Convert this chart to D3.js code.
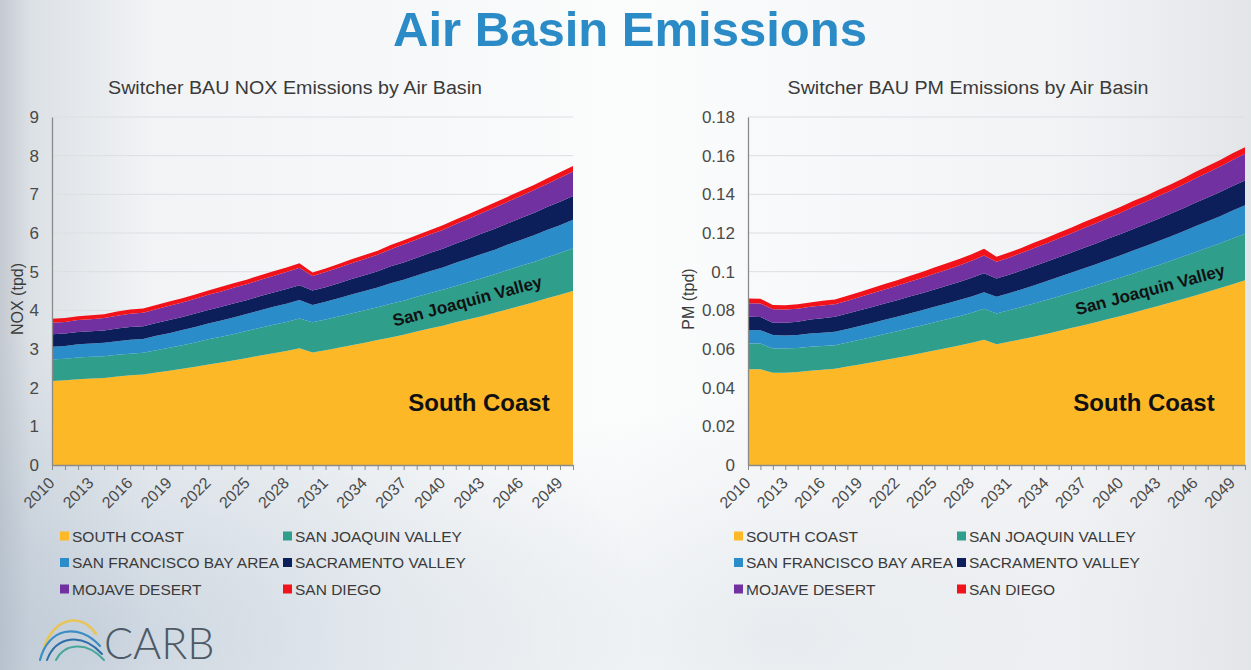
<!DOCTYPE html>
<html>
<head>
<meta charset="utf-8">
<script src="https://cdn.jsdelivr.net/npm/d3@7"></script>
<style>
  html, body { margin: 0; padding: 0; overflow: hidden; background: #f2f4f6; }
  svg { display: block; }
</style>
</head>
<body>
<script>
// ---- categories ----
const years = [2010,2011,2012,2013,2014,2015,2016,2017,2018,2019,
               2020,2021,2022,2023,2024,2025,2026,2027,2028,2029,
               2030,2031,2032,2033,2034,2035,2036,2037,2038,2039,
               2040,2041,2042,2043,2044,2045,2046,2047,2048,2049,2050];
const basins = ["SOUTH COAST","SAN JOAQUIN VALLEY","SAN FRANCISCO BAY AREA",
                "SACRAMENTO VALLEY","MOJAVE DESERT","SAN DIEGO"];
const basinColors = ["#FDB827","#2F9E8B","#2A8DC9","#0C1F5B","#7131A1","#F2121A"];

// ---- NOX (tpd) by basin ----
const noxSouthCoast = [2.17,2.19,2.22,2.24,2.25,2.29,2.32,2.34,2.39,2.44,
                       2.49,2.54,2.60,2.65,2.71,2.77,2.83,2.89,2.95,3.02,
                       2.91,2.97,3.03,3.10,3.16,3.23,3.30,3.37,3.45,3.53,
                       3.60,3.69,3.77,3.85,3.94,4.03,4.12,4.21,4.31,4.40,4.50];
const noxSanJoaquin = [0.56,0.56,0.56,0.56,0.56,0.56,0.56,0.56,0.58,0.59,
                       0.61,0.63,0.65,0.67,0.68,0.70,0.72,0.74,0.75,0.77,
                       0.78,0.79,0.81,0.82,0.84,0.85,0.87,0.88,0.90,0.91,
                       0.93,0.94,0.96,0.98,0.99,1.01,1.03,1.04,1.06,1.08,1.10];
const noxBayArea    = [0.33,0.33,0.34,0.34,0.35,0.35,0.36,0.36,0.37,0.38,
                       0.39,0.40,0.41,0.42,0.43,0.44,0.45,0.46,0.47,0.48,
                       0.45,0.46,0.47,0.49,0.50,0.51,0.53,0.54,0.55,0.57,
                       0.58,0.60,0.61,0.63,0.64,0.66,0.67,0.69,0.71,0.72,0.74];
const noxSacramento = [0.32,0.32,0.32,0.32,0.32,0.33,0.33,0.33,0.33,0.34,
                       0.34,0.35,0.35,0.35,0.36,0.36,0.37,0.37,0.38,0.38,
                       0.37,0.38,0.39,0.40,0.41,0.42,0.44,0.45,0.46,0.47,
                       0.48,0.50,0.51,0.53,0.54,0.55,0.57,0.58,0.59,0.61,0.62];
const noxMojave     = [0.30,0.30,0.31,0.31,0.32,0.33,0.34,0.35,0.36,0.37,
                       0.37,0.38,0.39,0.40,0.41,0.41,0.42,0.43,0.44,0.45,
                       0.38,0.39,0.40,0.41,0.42,0.43,0.44,0.46,0.47,0.48,
                       0.49,0.50,0.52,0.53,0.55,0.56,0.57,0.59,0.60,0.62,0.63];
const noxSanDiego   = [0.10,0.10,0.10,0.10,0.10,0.11,0.11,0.11,0.11,0.11,
                       0.11,0.11,0.11,0.12,0.12,0.12,0.12,0.12,0.12,0.12,
                       0.09,0.09,0.10,0.10,0.10,0.10,0.11,0.11,0.11,0.11,
                       0.12,0.12,0.12,0.12,0.13,0.13,0.13,0.13,0.14,0.14,0.14];

// ---- PM (tpd) by basin ----
const pmSouthCoast = [0.0495,0.0495,0.0477,0.0477,0.0481,0.0488,0.0493,0.0498,0.0509,0.0520,
                      0.0531,0.0543,0.0555,0.0567,0.0579,0.0592,0.0605,0.0618,0.0632,0.0648,
                      0.0624,0.0637,0.0650,0.0664,0.0678,0.0693,0.0708,0.0723,0.0739,0.0755,
                      0.0771,0.0788,0.0805,0.0822,0.0840,0.0858,0.0877,0.0896,0.0915,0.0935,0.0955];
const pmSanJoaquin = [0.0134,0.0133,0.0126,0.0125,0.0124,0.0123,0.0122,0.0122,0.0125,0.0128,
                      0.0131,0.0134,0.0137,0.0140,0.0143,0.0146,0.0149,0.0152,0.0156,0.0160,
                      0.0160,0.0163,0.0167,0.0171,0.0175,0.0179,0.0183,0.0187,0.0191,0.0195,
                      0.0199,0.0203,0.0207,0.0211,0.0215,0.0220,0.0224,0.0228,0.0232,0.0237,0.0241];
const pmBayArea    = [0.0069,0.0069,0.0069,0.0068,0.0068,0.0069,0.0069,0.0069,0.0070,0.0071,
                      0.0073,0.0074,0.0075,0.0077,0.0078,0.0080,0.0081,0.0083,0.0084,0.0086,
                      0.0086,0.0088,0.0091,0.0094,0.0097,0.0100,0.0103,0.0106,0.0109,0.0112,
                      0.0115,0.0118,0.0121,0.0124,0.0127,0.0130,0.0134,0.0137,0.0140,0.0144,0.0147];
const pmSacramento = [0.0069,0.0069,0.0064,0.0066,0.0068,0.0072,0.0075,0.0078,0.0079,0.0081,
                      0.0082,0.0084,0.0085,0.0087,0.0088,0.0090,0.0092,0.0094,0.0096,0.0098,
                      0.0095,0.0096,0.0098,0.0099,0.0101,0.0102,0.0104,0.0106,0.0107,0.0109,
                      0.0110,0.0112,0.0113,0.0115,0.0117,0.0119,0.0121,0.0123,0.0125,0.0127,0.0129];
const pmMojave     = [0.0069,0.0069,0.0069,0.0068,0.0067,0.0066,0.0066,0.0065,0.0067,0.0069,
                      0.0071,0.0073,0.0075,0.0077,0.0079,0.0081,0.0083,0.0085,0.0088,0.0091,
                      0.0086,0.0088,0.0090,0.0093,0.0095,0.0098,0.0100,0.0103,0.0105,0.0108,
                      0.0110,0.0113,0.0115,0.0118,0.0120,0.0123,0.0126,0.0129,0.0132,0.0135,0.0138];
const pmSanDiego   = [0.0025,0.0025,0.0022,0.0022,0.0023,0.0023,0.0024,0.0024,0.0025,0.0026,
                      0.0027,0.0028,0.0029,0.0030,0.0031,0.0032,0.0033,0.0033,0.0034,0.0035,
                      0.0026,0.0027,0.0027,0.0028,0.0028,0.0029,0.0029,0.0030,0.0030,0.0030,
                      0.0031,0.0031,0.0031,0.0032,0.0032,0.0032,0.0033,0.0033,0.0033,0.0034,0.0034];

// ---- tick labels ----
const xTickYears  = [2010,2013,2016,2019,2022,2025,2028,2031,2034,2037,2040,2043,2046,2049];
const noxTicks    = [0,1,2,3,4,5,6,7,8,9];
const noxTickText = ["0","1","2","3","4","5","6","7","8","9"];
const pmTicks     = [0,0.02,0.04,0.06,0.08,0.1,0.12,0.14,0.16,0.18];
const pmTickText  = ["0","0.02","0.04","0.06","0.08","0.1","0.12","0.14","0.16","0.18"];

const FONT = "'Liberation Sans', Arial, sans-serif";
const W = 1251, H = 670;

const svg = d3.select("body").append("svg").attr("width", W).attr("height", H);

// ---- slide background ----
const defs = svg.append("defs");
const gH = defs.append("linearGradient").attr("id", "bgH").attr("x1", 0).attr("x2", 1).attr("y1", 0).attr("y2", 0);
[["0%", "#c4cad1"], ["2.5%", "#dce1e6"], ["12%", "#f1f3f5"], ["50%", "#fbfcfc"], ["85%", "#f2f3f5"], ["100%", "#e3e6e9"]]
  .forEach(([o, c]) => gH.append("stop").attr("offset", o).attr("stop-color", c));
const gBL = defs.append("radialGradient").attr("id", "bgBL").attr("cx", 0.08).attr("cy", 0.95).attr("r", 0.45);
gBL.append("stop").attr("offset", "0%").attr("stop-color", "#9fb2c6").attr("stop-opacity", 0.45);
gBL.append("stop").attr("offset", "100%").attr("stop-color", "#9fb2c6").attr("stop-opacity", 0);
const gBR = defs.append("radialGradient").attr("id", "bgBR").attr("cx", 0.62).attr("cy", 0.95).attr("r", 0.35);
gBR.append("stop").attr("offset", "0%").attr("stop-color", "#c9d3dd").attr("stop-opacity", 0.35);
gBR.append("stop").attr("offset", "100%").attr("stop-color", "#c9d3dd").attr("stop-opacity", 0);

svg.append("rect").attr("width", W).attr("height", H).attr("fill", "url(#bgH)");
svg.append("rect").attr("width", W).attr("height", H).attr("fill", "url(#bgBL)");
svg.append("rect").attr("width", W).attr("height", H).attr("fill", "url(#bgBR)");

// ---- slide title ----
svg.append("text")
  .attr("x", 630).attr("y", 46)
  .attr("text-anchor", "middle")
  .attr("font-family", FONT).attr("font-weight", "bold").attr("font-size", 49)
  .attr("fill", "#2A8BC6")
  .text("Air Basin Emissions");

function buildTable(series) {
  return years.map((yr, i) => {
    const row = { year: yr };
    basins.forEach((b, j) => { row[b] = series[j][i]; });
    return row;
  });
}

function drawChart(cfg) {
  const table = buildTable(cfg.series);
  const stacked = d3.stack().keys(basins)(table);

  const x = d3.scaleLinear().domain([years[0], years[years.length - 1]]).range([cfg.left, cfg.right]);
  const y = d3.scaleLinear().domain([0, cfg.yMax]).range([cfg.bottom, cfg.top]);

  const g = svg.append("g");

  // chart title
  g.append("text")
    .attr("x", cfg.titleX).attr("y", 94)
    .attr("text-anchor", "middle")
    .attr("font-family", FONT).attr("font-size", 18).attr("fill", "#3a3a3a")
    .attr("textLength", cfg.titleLen).attr("lengthAdjust", "spacingAndGlyphs")
    .text(cfg.title);

  // gridlines
  g.append("g").selectAll("line").data(cfg.ticks.slice(1)).join("line")
    .attr("x1", cfg.left).attr("x2", cfg.right)
    .attr("y1", d => y(d)).attr("y2", d => y(d))
    .attr("stroke", "#dcdfe2").attr("stroke-width", 1);

  // stacked areas
  const area = d3.area()
    .x(d => x(d.data.year))
    .y0(d => y(d[0]))
    .y1(d => y(d[1]));
  g.append("g").selectAll("path").data(stacked).join("path")
    .attr("d", area)
    .attr("fill", (d, i) => basinColors[i]);

  // y axis
  const yAxis = d3.axisLeft(y).tickValues(cfg.ticks).tickSize(0).tickPadding(13)
    .tickFormat((d, i) => cfg.tickText[i]);
  const ya = g.append("g").attr("transform", `translate(${cfg.left},0)`).call(yAxis);
  ya.select(".domain").attr("stroke", "#8a8a8a").attr("stroke-width", 1.3);
  ya.selectAll("text").attr("font-family", FONT).attr("font-size", 17).attr("fill", "#4a4a4a");

  // x axis: a tick for every year, label every third year
  const xAxis = d3.axisBottom(x).tickValues(years).tickSize(5).tickSizeOuter(0).tickFormat("");
  const xa = g.append("g").attr("transform", `translate(0,${cfg.bottom})`).call(xAxis);
  xa.select(".domain").attr("stroke", "#8a8a8a").attr("stroke-width", 1.3);
  xa.selectAll(".tick line").attr("stroke", "#8a8a8a");

  const xl = d3.axisBottom(x).tickValues(xTickYears).tickSize(0).tickFormat(d => String(d));
  const xla = g.append("g").attr("transform", `translate(0,${cfg.bottom})`).call(xl);
  xla.select(".domain").remove();
  xla.selectAll("text")
    .attr("font-family", FONT).attr("font-size", 16).attr("fill", "#4a4a4a")
    .attr("text-anchor", "end")
    .attr("dy", null).attr("y", 0)
    .attr("transform", "translate(3,19) rotate(-45)");

  // y axis title
  g.append("text")
    .attr("transform", `translate(${cfg.yTitleX},${(cfg.top + cfg.bottom) / 2 + 8}) rotate(-90)`)
    .attr("text-anchor", "middle")
    .attr("font-family", FONT).attr("font-size", 16).attr("fill", "#3a3a3a")
    .text(cfg.yTitle);

  // in-chart labels for the two largest basins
  const sjYear = 2042;
  const idx = years.indexOf(sjYear);
  const sjMid = cfg.series[0][idx] + cfg.series[1][idx] / 2;
  g.append("text")
    .attr("transform", `translate(${x(sjYear) + cfg.sjDx},${y(sjMid) + 6}) rotate(${cfg.sjAngle})`)
    .attr("text-anchor", "middle")
    .attr("font-family", FONT).attr("font-weight", "bold").attr("font-size", 17).attr("fill", "#111")
    .text("San Joaquin Valley");
  g.append("text")
    .attr("x", cfg.scX).attr("y", 411)
    .attr("text-anchor", "middle")
    .attr("font-family", FONT).attr("font-weight", "bold").attr("font-size", 24).attr("fill", "#111")
    .text("South Coast");

  // legend
  const rows = [0, 0, 1, 1, 2, 2];
  const cols = [0, 1, 0, 1, 0, 1];
  const lg = g.append("g");
  basins.forEach((b, i) => {
    const lx = cols[i] === 0 ? cfg.legendX : cfg.legendX2;
    const ly = 536 + rows[i] * 26.5;
    lg.append("rect").attr("x", lx).attr("y", ly - 4.5).attr("width", 9).attr("height", 9)
      .attr("fill", basinColors[i]);
    lg.append("text").attr("x", lx + 12).attr("y", ly + 5.5)
      .attr("font-family", FONT).attr("font-size", 15.5).attr("fill", "#3a3a3a")
      .text(b);
  });
}

drawChart({
  series: [noxSouthCoast, noxSanJoaquin, noxBayArea, noxSacramento, noxMojave, noxSanDiego],
  left: 52, right: 573, top: 117, bottom: 465, yMax: 9,
  ticks: noxTicks, tickText: noxTickText,
  title: "Switcher BAU NOX Emissions by Air Basin", titleX: 295, titleLen: 374,
  yTitle: "NOX (tpd)", yTitleX: 23,
  sjDx: 0, sjAngle: -15, scX: 479,
  legendX: 60, legendX2: 283
});

drawChart({
  series: [pmSouthCoast, pmSanJoaquin, pmBayArea, pmSacramento, pmMojave, pmSanDiego],
  left: 748, right: 1245, top: 117, bottom: 465, yMax: 0.18,
  ticks: pmTicks, tickText: pmTickText,
  title: "Switcher BAU PM Emissions by Air Basin", titleX: 968, titleLen: 361,
  yTitle: "PM (tpd)", yTitleX: 694,
  sjDx: 6, sjAngle: -15, scX: 1144,
  legendX: 734, legendX2: 957
});

// ---- CARB logo ----
const logo = svg.append("g").attr("fill", "none").attr("stroke-linecap", "round");
logo.append("path").attr("d", "M44,648 C52,620 80,610 96,634").attr("stroke", "#E9C458").attr("stroke-width", 2.6);
logo.append("path").attr("d", "M40,660 C48,628 78,622 100,646").attr("stroke", "#3C8DC4").attr("stroke-width", 2.2);
logo.append("path").attr("d", "M47,660 C56,636 82,632 102,654").attr("stroke", "#2C6FA8").attr("stroke-width", 2);
logo.append("path").attr("d", "M56,660 C64,644 86,640 104,660").attr("stroke", "#49A79A").attr("stroke-width", 2);
svg.append("text")
  .attr("x", 104).attr("y", 659)
  .attr("font-family", "Lato, 'Open Sans', sans-serif").attr("font-weight", 300).attr("font-size", 43)
  .attr("fill", "#4d5a66")
  .text("CARB");
</script>
</body>
</html>
